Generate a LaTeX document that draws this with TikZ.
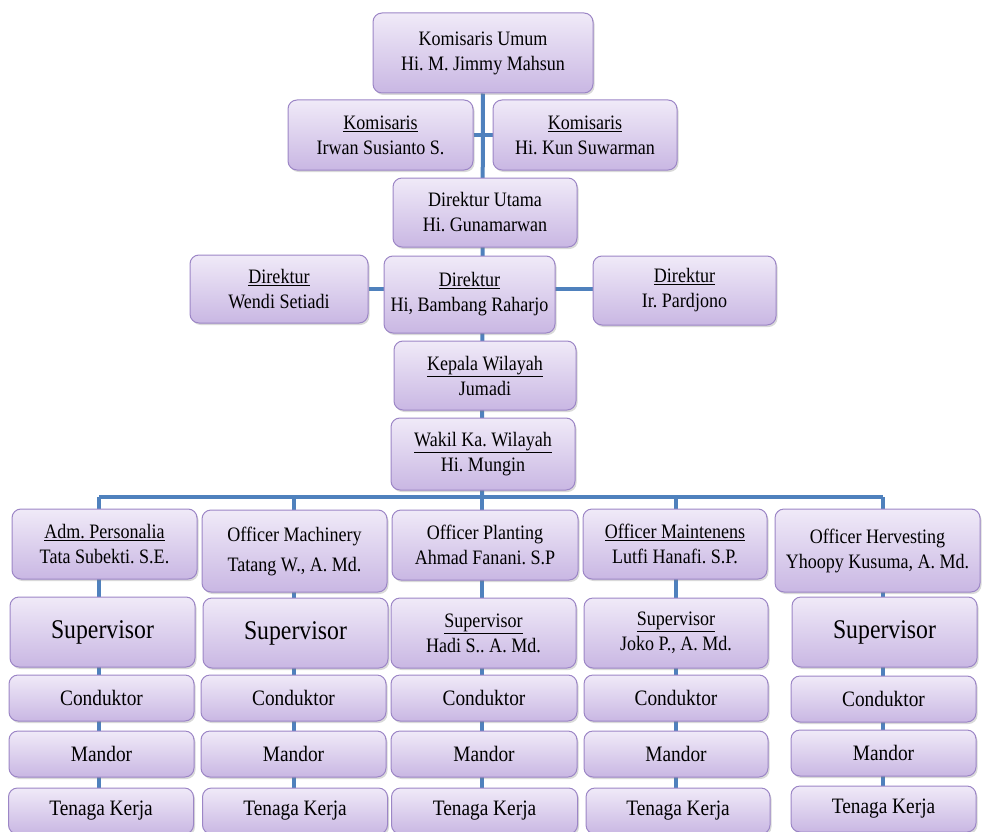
\documentclass[tikz,border=0pt]{standalone}
\usepackage{fontspec}
\setmainfont{Liberation Serif}[FakeStretch=0.88]
\usepackage{tikz}
\usetikzlibrary{shadows,backgrounds}
\frenchspacing

\definecolor{boxtop}{HTML}{F0EAF8}
\definecolor{boxbot}{HTML}{C9B7E3}
\definecolor{boxline}{HTML}{9C86C6}
\definecolor{linkblue}{HTML}{4F81BD}

\begin{document}
\begin{tikzpicture}[x=1pt, y=-1pt,
    unit/.style={draw=boxline, line width=1pt, rounded corners=9pt, top color=boxtop, bottom color=boxbot,
        align=center, inner sep=0pt, font=\fontsize{20.5}{25}\selectfont,
        drop shadow={shadow xshift=1.5pt, shadow yshift=-2pt, opacity=0.3}},
    row/.style={unit, minimum height=46pt, font=\fontsize{22}{26}\selectfont},
    big/.style={unit, font=\fontsize{27}{30}\selectfont},
    link/.style={draw=linkblue, line width=4pt}
]
\useasboundingbox (0,0) rectangle (982,832);

% pimpinan
\node[unit, minimum width=220pt, minimum height=80pt] (KU) at (483,53) {Komisaris Umum\\Hi. M. Jimmy Mahsun};
\node[unit, minimum width=185pt, minimum height=70pt] (K1) at (380.5,135) {\underline{Komisaris}\\Irwan Susianto S.};
\node[unit, minimum width=184pt, minimum height=70pt] (K2) at (585,135) {\underline{Komisaris}\\Hi. Kun Suwarman};
\node[unit, minimum width=184pt, minimum height=69pt] (DU) at (485,212.5) {Direktur Utama\\Hi. Gunamarwan};
\node[unit, minimum width=178pt, minimum height=68pt] (D1) at (279,289) {\underline{Direktur}\\Wendi Setiadi};
\node[unit, minimum width=171pt, minimum height=77pt] (D2) at (469.5,294.5) {\underline{Direktur}\\Hi, Bambang Raharjo};
\node[unit, minimum width=183pt, minimum height=69pt] (D3) at (684.5,290.5) {\underline{Direktur}\\Ir. Pardjono};
\node[unit, minimum width=182pt, minimum height=69pt] (KW) at (485,375.5) {\underline{Kepala Wilayah}\\Jumadi};
\node[unit, minimum width=184pt, minimum height=72pt] (WK) at (483,454) {\underline{Wakil Ka. Wilayah}\\Hi. Mungin};

% bagian
\node[unit, minimum width=185pt, minimum height=70pt] (A1) at (104.5,544) {\underline{Adm. Personalia}\\Tata Subekti. S.E.};
\node[unit, minimum width=185pt, minimum height=82pt] (A2) at (294.5,551) {Officer Machinery\\[5pt]Tatang W., A. Md.};
\node[unit, minimum width=186pt, minimum height=70pt] (A3) at (485,545) {Officer Planting\\Ahmad Fanani. S.P};
\node[unit, minimum width=184pt, minimum height=70pt] (A4) at (675,544) {\underline{Officer Maintenens}\\Lutfi Hanafi. S.P.};
\node[unit, minimum width=205pt, minimum height=83pt] (A5) at (877.5,550.5) {Officer Hervesting\\Yhoopy Kusuma, A. Md.};

% supervisor
\node[big, minimum width=185pt, minimum height=70pt] (S1) at (102.5,632) {\raisebox{5pt}{Supervisor}};
\node[big, minimum width=185pt, minimum height=70pt] (S2) at (295.5,633) {\raisebox{5pt}{Supervisor}};
\node[unit, minimum width=185pt, minimum height=70pt] (S3) at (483.5,633) {\underline{Supervisor}\\Hadi S.. A. Md.};
\node[unit, minimum width=184pt, minimum height=70pt] (S4) at (676,633) {\underline{Supervisor}\\Joko P., A. Md.};
\node[big, minimum width=185pt, minimum height=70pt] (S5) at (884.5,632) {\raisebox{5pt}{Supervisor}};

% conduktor
\node[row, minimum width=185pt] (C1) at (101.5,698) {Conduktor};
\node[row, minimum width=185pt] (C2) at (293.5,698) {Conduktor};
\node[row, minimum width=186pt] (C3) at (484,698) {Conduktor};
\node[row, minimum width=184pt] (C4) at (676,698) {Conduktor};
\node[row, minimum width=185pt] (C5) at (883.5,699) {Conduktor};

% mandor
\node[row, minimum width=185pt] (M1) at (101.5,754) {Mandor};
\node[row, minimum width=185pt] (M2) at (293.5,754) {Mandor};
\node[row, minimum width=186pt] (M3) at (484,754) {Mandor};
\node[row, minimum width=184pt] (M4) at (676,754) {Mandor};
\node[row, minimum width=185pt] (M5) at (883.5,753) {Mandor};

% tenaga kerja
\node[row, minimum width=185pt] (T1) at (101,811) {Tenaga Kerja};
\node[row, minimum width=185pt] (T2) at (295,811) {Tenaga Kerja};
\node[row, minimum width=186pt] (T3) at (484.5,811) {Tenaga Kerja};
\node[row, minimum width=184pt] (T4) at (678,811) {Tenaga Kerja};
\node[row, minimum width=185pt] (T5) at (883.5,809) {Tenaga Kerja};

\coordinate (b1) at (99,497);
\coordinate (b2) at (294,497);
\coordinate (b3) at (482,497);
\coordinate (b4) at (676,497);
\coordinate (b5) at (883,497);

\begin{scope}[on background layer]
\draw[link] (KU) -- (b3);
\draw[link] (K1) -- (K2);
\draw[link] (D1) -- (D1 -| D3);
\draw[link] (b1) -- (b5);
\draw[link] (b1) -- (b1 |- T1.south);
\draw[link] (b2) -- (b2 |- T2.south);
\draw[link] (b3) -- (b3 |- T3.south);
\draw[link] (b4) -- (b4 |- T4.south);
\draw[link] (b5) -- (b5 |- T5.south);
\end{scope}
\end{tikzpicture}
\end{document}
